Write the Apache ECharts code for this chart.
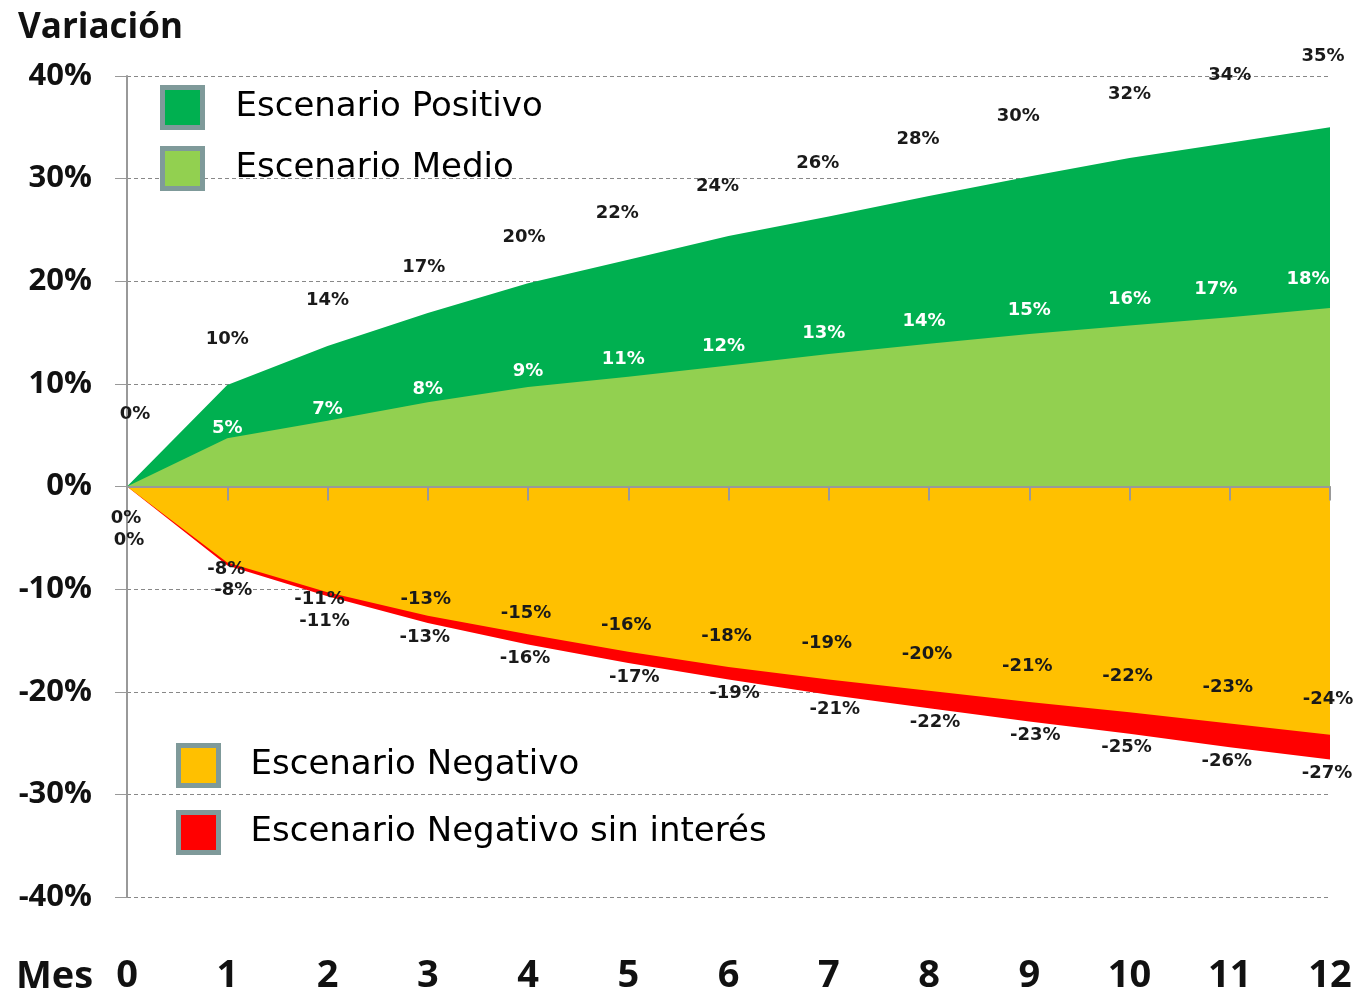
<!DOCTYPE html>
<html><head><meta charset="utf-8">
<script src="https://cdn.jsdelivr.net/npm/echarts@6/dist/echarts.min.js"></script>
<style>html,body{margin:0;padding:0;background:#fff}#c{width:1359px;height:995px}</style>
</head><body><div id="c"></div>
<script>
const months = [0,1,2,3,4,5,6,7,8,9,10,11,12];
// area edges (%)
const positivo = [0,9.9,13.7,16.9,19.8,22.1,24.4,26.3,28.3,30.2,32.0,33.5,35.0];
const medio = [0,4.7,6.4,8.2,9.7,10.7,11.8,12.9,13.9,14.85,15.7,16.5,17.4];
const negativo = [0,-7.4,-10.3,-12.6,-14.4,-16.1,-17.6,-18.8,-19.9,-21.0,-22.0,-23.1,-24.2];
const negSinInteres = [0,-7.7,-10.7,-13.3,-15.4,-17.2,-18.8,-20.3,-21.6,-22.9,-24.1,-25.4,-26.6];
// printed data labels (%)
const positivoLabels = [0,10,14,17,20,22,24,26,28,30,32,34,35];
const medioLabels = [0,5,7,8,9,11,12,13,14,15,16,17,18];
const negativoLabels = [0,-8,-11,-13,-15,-16,-18,-19,-20,-21,-22,-23,-24];
const negSinInteresLabels = [0,-8,-11,-13,-16,-17,-19,-21,-22,-23,-25,-26,-27];
const yTicks = [-40,-30,-20,-10,0,10,20,30,40];

const FONT = 'DejaVu Sans';

// label centre offsets (px) from the data point
const posOff = i => {
  if (i === 0) return [8, -72];
  const dy = i <= 5 ? 46 : 46 + 3.6 * (i - 5);
  const dx = (i >= 5 && i <= 9) ? -11 : (i === 3 || i === 4 ? -4 : (i === 12 ? -7 : 0));
  return [dx, -dy];
};
const medOff = i => {
  if (i === 0) return [8, -72];
  const dy = Math.min(8 + 1.8 * i, 29);
  const dx = i === 12 ? -22 : (i === 11 ? -14 : (i >= 5 && i <= 8 ? -5 : 0));
  return [dx, -dy];
};
const negOff = i => {
  if (i === 0) return [-1, 32];
  if (i <= 2) return [i === 2 ? -8 : -1, 7];
  return [-2, -Math.min(36, 16 + 5 * (i - 3))];
};
const redOff = i => {
  if (i === 0) return [2, 54];
  const dy = i <= 2 ? 25 : 14;
  const dx = (i >= 5 && i <= 9) ? 6 : (i === 1 ? 6 : -3);
  return [dx, dy];
};

function area(name, color, arr) {
  return {name, type: 'line', data: arr.map((v, i) => [months[i], v]), symbol: 'none',
    lineStyle: {width: 0}, itemStyle: {color},
    areaStyle: {color, opacity: 1}, silent: true};
}
function labelSeries(name, arr, texts, offFn, color) {
  return {name, type: 'custom', z: 6, silent: true,
    data: arr.map((v, i) => [months[i], v]),
    renderItem: (params, api) => {
      const p = api.coord([api.value(0), api.value(1)]);
      const o = offFn(params.dataIndex);
      return {type: 'text', x: p[0] + o[0], y: p[1] + o[1],
        style: {text: texts[params.dataIndex] + '%', fontFamily: FONT, fontWeight: 'bold', fontSize: 18,
          fill: color, align: 'center', verticalAlign: 'middle'}};
    }};
}

const chart = echarts.init(document.getElementById('c'));
chart.setOption({
  backgroundColor: '#fff',
  animation: false,
  grid: {left: 127, right: 29, top: 76, bottom: 96},
  title: {text: 'Variación', left: 13, top: 6, textStyle: {fontFamily: 'Open Sans', fontWeight: 'bold', fontSize: 35, color: '#111'}},
  graphic: [{type: 'text', left: 16, top: 958, style: {text: 'Mes', fontFamily: 'Open Sans', fontWeight: 'bold', fontSize: 38, fill: '#111'}}],
  legend: [
    {data: ['Escenario Positivo', 'Escenario Medio'], orient: 'vertical', left: 155, top: 80, itemWidth: 40, itemHeight: 40, itemGap: 16,
     icon: 'rect', itemStyle: {borderColor: '#7f9a9a', borderWidth: 5},
     textStyle: {fontFamily: FONT, fontSize: 34, color: '#000', padding: [0, 0, 0, 28]}},
    {data: ['Escenario Negativo', 'Escenario Negativo sin interés'], orient: 'vertical', left: 171, top: 738, itemWidth: 40, itemHeight: 40, itemGap: 22,
     icon: 'rect', itemStyle: {borderColor: '#7f9a9a', borderWidth: 5},
     textStyle: {fontFamily: FONT, fontSize: 34, color: '#000', padding: [0, 0, 0, 27]}}
  ],
  xAxis: [
    {type: 'value', min: 0, max: 12, interval: 1, z: 5, axisLine: {onZero: true, lineStyle: {color: '#999', width: 2}},
     axisTick: {show: true, length: 14, lineStyle: {color: '#999', width: 2}}, axisLabel: {show: false}, splitLine: {show: false}},
    {type: 'value', min: 0, max: 12, interval: 1, position: 'bottom', axisLine: {show: false}, axisTick: {show: false}, splitLine: {show: false},
     axisLabel: {margin: 60, fontFamily: 'Open Sans', fontWeight: 'bold', fontSize: 38, color: '#111'}}
  ],
  yAxis: {type: 'value', min: yTicks[0], max: yTicks[yTicks.length - 1], interval: 10,
    axisLine: {show: true, lineStyle: {color: '#999', width: 2}},
    axisTick: {show: true, inside: false, length: 12, lineStyle: {color: '#999', width: 1}},
    axisLabel: {margin: 35, formatter: v => v + '%', fontFamily: 'Open Sans', fontWeight: 'bold', fontSize: 31, color: '#111'},
    splitLine: {show: true, lineStyle: {color: '#888', type: [4, 3], width: 1}}},
  series: [
    area('Escenario Positivo', '#00B050', positivo),
    area('Escenario Medio', '#92D050', medio),
    area('Escenario Negativo sin interés', '#FF0000', negSinInteres),
    area('Escenario Negativo', '#FFC000', negativo),
    labelSeries('lbl-med', medio, medioLabels, medOff, '#ffffff'),
    labelSeries('lbl-pos', positivo, positivoLabels, posOff, '#1a1a1a'),
    labelSeries('lbl-red', negSinInteres, negSinInteresLabels, redOff, '#1a1a1a'),
    labelSeries('lbl-neg', negativo, negativoLabels, negOff, '#1a1a1a')
  ]
});
</script></body></html>
